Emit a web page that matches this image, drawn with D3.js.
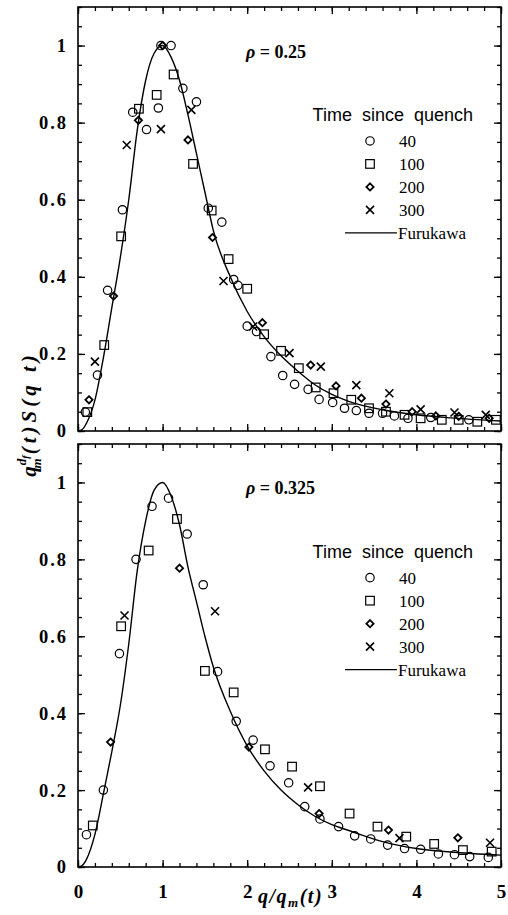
<!DOCTYPE html>
<html><head><meta charset="utf-8">
<script src="https://cdn.jsdelivr.net/npm/d3@7"></script>
<style>body{margin:0;background:#fff}svg{display:block}</style>
</head><body>
<svg id="c" width="508" height="915"></svg>
<script>
// ---------- data ----------
const xTicks = [0, 1, 2, 3, 4, 5];
const yTicks = [0, 0.2, 0.4, 0.6, 0.8, 1];
const yTickLabels = ["0", "0.2", "0.4", "0.6", "0.8", "1"];
const seriesNames = ["40", "100", "200", "300"];
const legendTitle = "Time  since  quench";
const curveName = "Furukawa";
const panelRho = ["0.25", "0.325"];

const top40 = [[0.087,0.049],[0.23,0.145],[0.35,0.365],[0.525,0.574],[0.647,0.827],[0.81,0.782],[0.95,0.838],[0.98,1.0],[1.1,1.0],[1.24,0.889],[1.40,0.854],[1.54,0.578],[1.70,0.542],[1.84,0.393],[1.89,0.378],[2.0,0.272],[2.11,0.258],[2.28,0.193],[2.42,0.144],[2.56,0.121],[2.72,0.108],[2.85,0.082],[3.01,0.074],[3.15,0.059],[3.29,0.053],[3.44,0.046],[3.6,0.046],[3.74,0.039],[3.90,0.033],[4.17,0.035],[4.62,0.029]];
const top100 = [[0.11,0.049],[0.31,0.223],[0.51,0.505],[0.72,0.836],[0.93,0.872],[1.13,0.925],[1.36,0.693],[1.58,0.572],[1.78,0.446],[2.0,0.369],[2.2,0.251],[2.40,0.208],[2.61,0.163],[2.81,0.113],[3.02,0.098],[3.23,0.081],[3.44,0.059],[3.64,0.05],[3.86,0.042],[4.05,0.033],[4.30,0.029],[4.50,0.029],[4.72,0.024],[4.94,0.029]];
const top200 = [[0.13,0.081],[0.42,0.35],[0.714,0.806],[1.0,1.0],[1.30,0.755],[1.59,0.502],[2.18,0.281],[2.75,0.171],[3.05,0.117],[3.35,0.085],[3.64,0.070],[3.95,0.05],[4.23,0.039],[4.50,0.038],[4.86,0.033]];
const top300 = [[0.2,0.18],[0.576,0.742],[0.98,0.783],[1.34,0.833],[1.72,0.389],[2.07,0.271],[2.50,0.202],[2.87,0.167],[3.29,0.119],[3.68,0.098],[4.05,0.056],[4.45,0.048],[4.82,0.042]];
const topCurveX = [0,0.05,0.1,0.2,0.3,0.4,0.5,0.6,0.7,0.8,0.9,1.0,1.1,1.2,1.3,1.4,1.5,1.6,1.8,2.0,2.2,2.4,2.6,2.8,3.0,3.2,3.6,4.0,4.4,5.0];
const topCurveY = [0,0.004,0.02,0.08,0.19,0.32,0.45,0.6,0.78,0.91,0.98,1.0,0.97,0.91,0.82,0.72,0.62,0.52,0.40,0.31,0.245,0.195,0.155,0.12,0.095,0.077,0.055,0.042,0.034,0.026];

const bot40 = [[0.10,0.084],[0.30,0.2],[0.49,0.555],[0.686,0.80],[0.875,0.938],[1.07,0.959],[1.29,0.866],[1.48,0.734],[1.65,0.508],[1.87,0.379],[2.07,0.33],[2.27,0.263],[2.49,0.219],[2.68,0.157],[2.86,0.125],[3.08,0.105],[3.27,0.081],[3.46,0.073],[3.66,0.057],[3.86,0.048],[4.05,0.046],[4.26,0.034],[4.45,0.032],[4.63,0.027],[4.85,0.025]];
const bot100 = [[0.175,0.108],[0.51,0.626],[0.835,0.823],[1.17,0.905],[1.50,0.51],[1.84,0.454],[2.21,0.306],[2.53,0.261],[2.86,0.21],[3.21,0.139],[3.54,0.105],[3.88,0.079],[4.21,0.06],[4.55,0.044],[4.89,0.04]];
const bot200 = [[0.385,0.325],[1.20,0.777],[2.02,0.312],[2.85,0.139],[3.67,0.096],[4.49,0.076]];
const bot300 = [[0.55,0.654],[1.62,0.665],[2.72,0.207],[3.8,0.075],[4.87,0.063]];
const botCurveX = [0,0.05,0.1,0.2,0.3,0.4,0.5,0.6,0.7,0.8,0.9,1.0,1.1,1.2,1.3,1.4,1.5,1.6,1.8,2.0,2.2,2.4,2.6,2.8,3.0,3.2,3.6,4.0,4.4,5.0];
const botCurveY = [0,0.004,0.02,0.085,0.19,0.30,0.42,0.58,0.77,0.90,0.98,1.0,0.965,0.89,0.78,0.69,0.60,0.52,0.405,0.315,0.25,0.20,0.162,0.132,0.11,0.095,0.066,0.048,0.039,0.031];

// ---------- drawing ----------
const svg = d3.select("#c");
const serif = "'Liberation Serif','Times New Roman',serif";
const sans = "'Liberation Sans',Arial,sans-serif";

const x = d3.scaleLinear().domain([0, 5]).range([78, 501]);
const panels = [
  {top: 7, bottom: 431, s: [top40, top100, top200, top300], cx: topCurveX, cy: topCurveY, rho: panelRho[0], labels: false},
  {top: 444, bottom: 867, s: [bot40, bot100, bot200, bot300], cx: botCurveX, cy: botCurveY, rho: panelRho[1], labels: true}
];

function marker(g, type, cx, cy) {
  if (type === 0) {
    g.append("circle").attr("cx", cx).attr("cy", cy).attr("r", 4.2)
      .attr("fill", "none").attr("stroke", "#000").attr("stroke-width", 1.2);
  } else if (type === 1) {
    g.append("rect").attr("x", cx - 4.3).attr("y", cy - 4.3).attr("width", 8.6).attr("height", 8.6)
      .attr("fill", "none").attr("stroke", "#000").attr("stroke-width", 1.2);
  } else if (type === 2) {
    const r = 3.6;
    g.append("path").attr("d", `M${cx},${cy-r}L${cx+r},${cy}L${cx},${cy+r}L${cx-r},${cy}Z`)
      .attr("fill", "none").attr("stroke", "#000").attr("stroke-width", 1.8);
  } else {
    const r = 4;
    g.append("path").attr("d", `M${cx-r},${cy-r}L${cx+r},${cy+r}M${cx-r},${cy+r}L${cx+r},${cy-r}`)
      .attr("stroke", "#000").attr("stroke-width", 1.6);
  }
}

panels.forEach((p, pi) => {
  const y = d3.scaleLinear().domain([0, 1.1]).range([p.bottom, p.top]);
  const g = svg.append("g");
  const xMinor = d3.range(0, 5.001, 0.2).map(v => +v.toFixed(2));
  const yMinor = d3.range(0, 1.1001, 0.05).map(v => +v.toFixed(2));

  function addAxis(axis, tr) {
    const a = g.append("g").attr("transform", tr).call(axis);
    a.select(".domain").remove();
    a.selectAll("line").attr("stroke", "#000").attr("stroke-width", 1.3);
    return a;
  }
  // minor ticks
  addAxis(d3.axisBottom(x).tickValues(xMinor).tickSize(-4).tickFormat(""), `translate(0,${p.bottom})`);
  addAxis(d3.axisTop(x).tickValues(xMinor).tickSize(-4).tickFormat(""), `translate(0,${p.top})`);
  addAxis(d3.axisLeft(y).tickValues(yMinor).tickSize(-4).tickFormat(""), `translate(${x.range()[0]},0)`);
  addAxis(d3.axisRight(y).tickValues(yMinor).tickSize(-4).tickFormat(""), `translate(${x.range()[1]},0)`);
  // major ticks
  const bx = addAxis(d3.axisBottom(x).tickValues(xTicks).tickSize(-7).tickPadding(18)
      .tickFormat((d, i) => p.labels ? String(xTicks[i]) : ""), `translate(0,${p.bottom})`);
  bx.selectAll("text").attr("font-family", serif).attr("font-weight", "bold").attr("font-size", 19).attr("fill", "#000");
  addAxis(d3.axisTop(x).tickValues(xTicks).tickSize(-7).tickFormat(""), `translate(0,${p.top})`);
  const ly = addAxis(d3.axisLeft(y).tickValues(yTicks).tickSize(-7).tickPadding(10)
      .tickFormat((d, i) => yTickLabels[i]), `translate(${x.range()[0]},0)`);
  ly.selectAll("text").attr("font-family", serif).attr("font-weight", "bold").attr("font-size", 18.5)
    .attr("letter-spacing", "2px").attr("fill", "#000");
  addAxis(d3.axisRight(y).tickValues(yTicks).tickSize(-7).tickFormat(""), `translate(${x.range()[1]},0)`);

  // frame
  g.append("rect").attr("x", x.range()[0]).attr("y", p.top)
    .attr("width", x.range()[1] - x.range()[0]).attr("height", p.bottom - p.top)
    .attr("fill", "none").attr("stroke", "#000").attr("stroke-width", 1.6);

  // curve
  const line = d3.line().x(d => x(d[0])).y(d => y(d[1])).curve(d3.curveMonotoneX);
  g.append("path").datum(p.cx.map((v, i) => [v, p.cy[i]]))
    .attr("d", line).attr("fill", "none").attr("stroke", "#000").attr("stroke-width", 1.4);

  // markers
  p.s.forEach((ser, si) => ser.forEach(d => marker(g, si, x(d[0]), y(d[1]))));

  // rho label
  const rt = g.append("text").attr("x", 246).attr("y", y(1) + 12)
    .attr("font-family", serif).attr("font-weight", "bold").attr("font-size", 18).attr("fill", "#000");
  rt.append("tspan").attr("font-style", "italic").text("\u03C1");
  rt.append("tspan").text(" = " + p.rho);

  // legend
  const ty = y(0.82);
  g.append("text").attr("x", 473).attr("y", ty + 6).attr("text-anchor", "end")
    .attr("font-family", sans).attr("font-size", 18).attr("fill", "#000")
    .style("white-space", "pre").attr("xml:space", "preserve").text(legendTitle);
  seriesNames.forEach((nm, i) => {
    const ry = ty + 26 + i * 23;
    marker(g, i, 370, ry);
    g.append("text").attr("x", 399).attr("y", ry + 6).attr("font-family", serif)
      .attr("font-size", 17).attr("fill", "#000").text(nm);
  });
  const fy = ty + 26 + 4 * 23;
  g.append("line").attr("x1", 345).attr("x2", 397).attr("y1", fy).attr("y2", fy)
    .attr("stroke", "#000").attr("stroke-width", 1.3);
  g.append("text").attr("x", 398).attr("y", fy + 6).attr("font-family", serif)
    .attr("font-size", 17).attr("fill", "#000").text(curveName);
});

// y axis label (rotated)
const yl = svg.append("text").attr("transform", "translate(36,414) rotate(-90)")
  .attr("text-anchor", "middle").attr("font-family", serif).attr("font-weight", "bold")
  .attr("font-style", "italic").attr("font-size", 21).attr("fill", "#000");
yl.append("tspan").text("q");
yl.append("tspan").attr("font-size", 13).attr("dy", -10).attr("dx", 1).text("d");
yl.append("tspan").attr("font-size", 10).attr("dy", 3).text("f");
yl.append("tspan").attr("font-size", 13).attr("dx", -13).attr("dy", 12).text("m");
yl.append("tspan").attr("dy", -5).attr("dx", 4).attr("letter-spacing", "4px").text("(t)S(q t)");

// x axis label
const xl = svg.append("text").attr("x", 258).attr("y", 903)
  .attr("font-family", serif).attr("font-weight", "bold").attr("font-style", "italic")
  .attr("font-size", 20).attr("fill", "#000").attr("letter-spacing", "1.5px");
xl.append("tspan").text("q/q");
xl.append("tspan").attr("font-size", 13).attr("dy", 4).text("m");
xl.append("tspan").attr("dy", -4).text("(t)");
</script>
</body></html>
